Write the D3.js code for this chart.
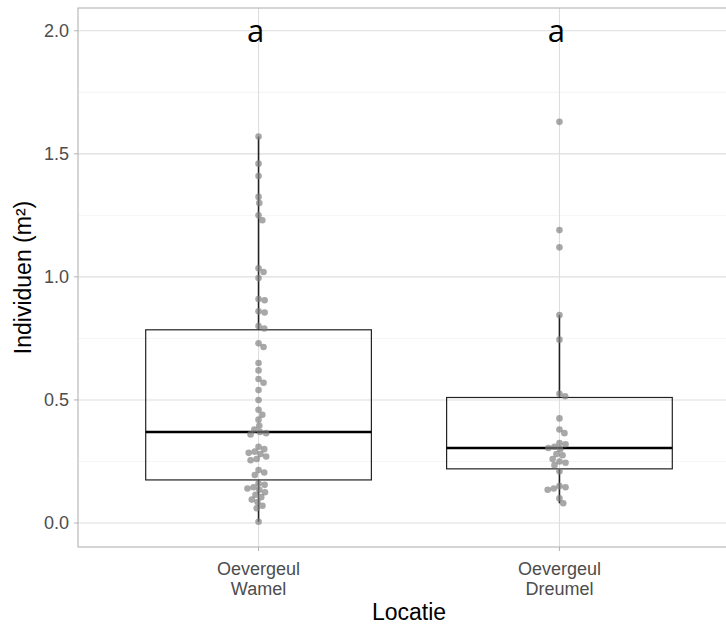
<!DOCTYPE html>
<html>
<head>
<meta charset="utf-8">
<script src="https://cdn.jsdelivr.net/npm/d3@7"></script>
<style>
  body { margin: 0; background: #fff; }
  svg { display: block; font-family: "Liberation Sans", Arial, sans-serif; }
</style>
</head>
<body>
<div id="chart"></div>
<script>
// categorieën (twee regels per label)
const locaties = [["Oevergeul", "Wamel"], ["Oevergeul", "Dreumel"]];
const letters = ["a", "a"];

// individuele waarnemingen per locatie (m²)
const wamel = [1.57, 1.46, 1.41, 1.325, 1.30, 1.25, 1.23, 1.035, 1.02, 0.995,
  0.91, 0.905, 0.86, 0.855, 0.80, 0.79, 0.73, 0.715, 0.65, 0.62, 0.585, 0.57,
  0.54, 0.50, 0.46, 0.44, 0.42, 0.395, 0.38, 0.37, 0.365, 0.36, 0.31, 0.30,
  0.29, 0.285, 0.28, 0.27, 0.26, 0.255, 0.215, 0.205, 0.195, 0.16, 0.155,
  0.145, 0.14, 0.135, 0.125, 0.115, 0.105, 0.095, 0.085, 0.07, 0.06, 0.005];
const dreumel = [1.63, 1.19, 1.12, 0.845, 0.745, 0.525, 0.515, 0.425, 0.38,
  0.365, 0.325, 0.32, 0.31, 0.305, 0.30, 0.28, 0.275, 0.26, 0.25, 0.245, 0.235,
  0.21, 0.15, 0.145, 0.14, 0.135, 0.10, 0.08];

const whiskerLaag = [0.005, 0.08];
const q1 = [0.175, 0.22];
const mediaan = [0.37, 0.305];
const q3 = [0.785, 0.51];
const whiskerHoog = [1.57, 0.845];

const yTicks = [0, 0.5, 1, 1.5, 2];
const yMinor = [0.25, 0.75, 1.25, 1.75];

const W = 726, H = 626;
const panel = { left: 78, top: 8, bottom: 547, right: 740 };

const svg = d3.select('#chart').append('svg')
  .attr('width', W).attr('height', H);

const y = d3.scaleLinear().domain([-0.0975, 2.0925]).range([panel.bottom, panel.top]);
const x = d3.scaleLinear().domain([0.4, 2.6]).range([panel.left, panel.right]);

// rasterlijnen
svg.append('g').selectAll('line').data(yMinor).join('line')
  .attr('x1', panel.left).attr('x2', panel.right)
  .attr('y1', d => y(d)).attr('y2', d => y(d))
  .attr('stroke', '#ededed').attr('stroke-width', 0.6);
svg.append('g').selectAll('line').data(yTicks).join('line')
  .attr('x1', panel.left).attr('x2', panel.right)
  .attr('y1', d => y(d)).attr('y2', d => y(d))
  .attr('stroke', '#dedede').attr('stroke-width', 1.1);
svg.append('g').selectAll('line').data(locaties).join('line')
  .attr('x1', (d, i) => x(i + 1)).attr('x2', (d, i) => x(i + 1))
  .attr('y1', panel.top).attr('y2', panel.bottom)
  .attr('stroke', '#dedede').attr('stroke-width', 1.1);

// boxplots
const bw = 0.75;
const boxes = svg.append('g');
locaties.forEach((loc, i) => {
  const cx = x(i + 1);
  boxes.append('line')
    .attr('x1', cx).attr('x2', cx)
    .attr('y1', y(q3[i])).attr('y2', y(whiskerHoog[i]))
    .attr('stroke', '#222').attr('stroke-width', 1.6);
  boxes.append('line')
    .attr('x1', cx).attr('x2', cx)
    .attr('y1', y(q1[i])).attr('y2', y(whiskerLaag[i]))
    .attr('stroke', '#222').attr('stroke-width', 1.6);
  boxes.append('rect')
    .attr('x', x(i + 1 - bw / 2)).attr('width', x(i + 1 + bw / 2) - x(i + 1 - bw / 2))
    .attr('y', y(q3[i])).attr('height', y(q1[i]) - y(q3[i]))
    .attr('fill', 'none').attr('stroke', '#222').attr('stroke-width', 1.2);
  boxes.append('line')
    .attr('x1', x(i + 1 - bw / 2)).attr('x2', x(i + 1 + bw / 2))
    .attr('y1', y(mediaan[i])).attr('y2', y(mediaan[i]))
    .attr('stroke', '#000').attr('stroke-width', 2.6);
});

// eenvoudige beeswarm in pixelruimte
function swarm(values, cx, d) {
  const pts = values.map(v => ({ v, py: y(v) })).sort((a, b) => a.py - b.py);
  const placed = [];
  pts.forEach(p => {
    const cands = [0];
    placed.forEach(q => {
      const dy = p.py - q.py;
      if (Math.abs(dy) < d) {
        const dx = Math.sqrt(d * d - dy * dy);
        cands.push(q.dx + dx, q.dx - dx);
      }
    });
    cands.sort((a, b) => Math.abs(a) - Math.abs(b));
    for (const c of cands) {
      const ok = placed.every(q => {
        const dx = c - q.dx, dy = p.py - q.py;
        return dx * dx + dy * dy >= d * d - 0.01;
      });
      if (ok) { p.dx = c; break; }
    }
    placed.push(p);
  });
  return placed.map(p => ({ v: p.v, px: cx + p.dx, py: p.py }));
}

const punten = [wamel, dreumel];
punten.forEach((vals, i) => {
  svg.append('g').selectAll('circle').data(swarm(vals, x(i + 1), 6.2)).join('circle')
    .attr('cx', d => d.px).attr('cy', d => d.py).attr('r', 3.3)
    .attr('fill', '#7f7f7f').attr('fill-opacity', 0.68);
});

// letters
svg.append('g').selectAll('text').data(letters).join('text')
  .attr('x', (d, i) => x(i + 1) - 3).attr('y', y(2) - 1)
  .attr('text-anchor', 'middle').attr('dominant-baseline', 'central')
  .style('font-family', '"Open Sans", sans-serif').style('font-size', '31px')
  .attr('fill', '#000').text(d => d);

// paneelrand
svg.append('rect')
  .attr('x', panel.left).attr('y', panel.top)
  .attr('width', panel.right - panel.left).attr('height', panel.bottom - panel.top)
  .attr('fill', 'none').attr('stroke', '#b3b3b3').attr('stroke-width', 1.1);

// y-as
const ya = svg.append('g');
ya.selectAll('line').data(yTicks).join('line')
  .attr('x1', panel.left - 4).attr('x2', panel.left)
  .attr('y1', d => y(d)).attr('y2', d => y(d))
  .attr('stroke', '#b3b3b3');
ya.selectAll('text').data(yTicks).join('text')
  .attr('x', panel.left - 9).attr('y', d => y(d))
  .attr('text-anchor', 'end').attr('dominant-baseline', 'central')
  .attr('fill', '#4d4d4d').style('font-size', '18px')
  .text(d => d3.format('.1f')(d));

// x-as
const xa = svg.append('g');
xa.selectAll('line').data(locaties).join('line')
  .attr('x1', (d, i) => x(i + 1)).attr('x2', (d, i) => x(i + 1))
  .attr('y1', panel.bottom).attr('y2', panel.bottom + 4)
  .attr('stroke', '#b3b3b3');
xa.selectAll('text').data(locaties).join('text')
  .attr('x', (d, i) => x(i + 1)).attr('y', panel.bottom + 28)
  .attr('text-anchor', 'middle')
  .attr('fill', '#4d4d4d').style('font-size', '18px')
  .each(function (d) {
    d3.select(this).selectAll('tspan').data(d).join('tspan')
      .attr('x', d3.select(this).attr('x'))
      .attr('dy', (t, j) => j === 0 ? 0 : 20)
      .text(t => t);
  });

// astitels
svg.append('text')
  .attr('x', (panel.left + panel.right) / 2).attr('y', 620)
  .attr('text-anchor', 'middle').style('font-size', '23px').attr('fill', '#000')
  .text('Locatie');
svg.append('text')
  .attr('transform', `translate(31,${(panel.top + panel.bottom) / 2}) rotate(-90)`)
  .attr('text-anchor', 'middle').style('font-size', '23px').attr('fill', '#000')
  .text('Individuen (m²)');
</script>
</body>
</html>
